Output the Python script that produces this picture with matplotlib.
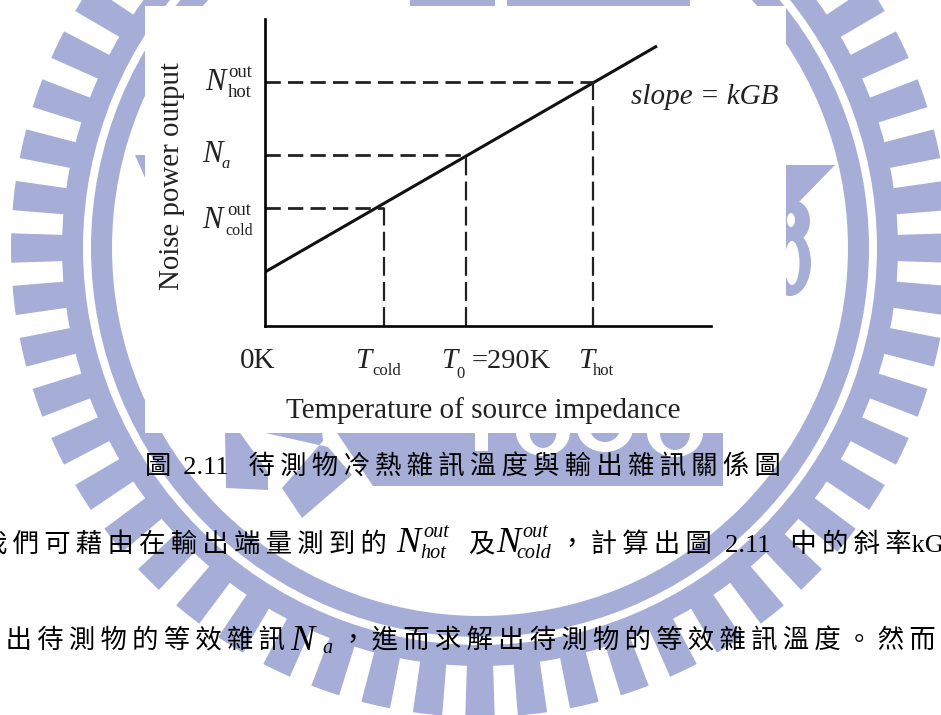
import numpy as np
import matplotlib
matplotlib.use('Agg')
import matplotlib.pyplot as plt
from matplotlib.patches import Wedge, Polygon, Ellipse, Rectangle

plt.rcParams['font.family'] = ['Liberation Serif', 'Noto Sans CJK TC', 'DejaVu Sans']

# chart values
t_marks = [119, 201, 328]        # T_cold, T_0, T_hot
n_marks = [118, 171, 244]        # N_cold, N_a, N_hot
line_x = [0, 392]
line_y = [54, 280]

WM = '#a6aed8'
DARK = '#222222'


def spaced(s):
    # the scanned text has wide letter spacing
    return '\u2009'.join(s)


def draw_watermark(ax):
    cx, cy = 480, 248
    ax.add_patch(Wedge((cx, cy), 389, 0, 360, width=21, color=WM, lw=0))
    ax.add_patch(Wedge((cx, cy), 418, 0, 360, width=21, color=WM, lw=0))
    step = 360 / 56
    for i in range(56):
        a = i * step
        ax.add_patch(Wedge((cx, cy), 469, a - 1.8, a + 1.8, width=53, color=WM, lw=0))

    # inner parts of the logo, mostly hidden behind the white picture box
    ax.add_patch(Rectangle((410, 0), 85, 8, color=WM, lw=0))
    ax.add_patch(Rectangle((507, 0), 183, 8, color=WM, lw=0))
    ax.add_patch(Polygon([(135, 155), (146, 155), (146, 180)], color=WM, lw=0))
    ax.add_patch(Polygon([(784, 165), (835, 165), (798, 203), (784, 215)], color=WM, lw=0))
    ax.add_patch(Ellipse((795, 221), 30, 40, color=WM, lw=0))
    ax.add_patch(Ellipse((791, 220), 8, 14, color='white', lw=0))
    ax.add_patch(Ellipse((790, 263), 42, 66, color=WM, lw=0))
    ax.add_patch(Ellipse((792, 263), 15, 44, color='white', lw=0))

    ax.add_patch(Polygon([(225, 430), (238, 430), (268, 472), (268, 490), (226, 488)], color=WM, lw=0))
    ax.add_patch(Polygon([(252, 430), (322, 430), (323, 441), (282, 488), (302, 518),
                          (352, 475), (328, 447)], color=WM, lw=0))
    ax.add_patch(Polygon([(335, 430), (723, 430), (723, 486), (373, 486)], color=WM, lw=0))
    # 1896 in white on the logo
    ax.add_patch(Rectangle((475, 430), 13, 21, color='white', lw=0))
    for x, y, w, h, hw, hh in [(543, 432, 54, 48, 27, 32), (605, 428, 56, 48, 30, 28),
                               (675, 433, 56, 48, 30, 34)]:
        ax.add_patch(Ellipse((x, y), w, h, color='white', lw=0))
        ax.add_patch(Ellipse((x, y), hw, hh, color=WM, lw=0))


def sym(x, y, base, size, color=DARK):
    bg.text(x, y, base, fontsize=size, style='italic', va='baseline', color=color, zorder=5)


def small(x, y, s, size, italic=False, color=DARK):
    bg.text(x, y, s, fontsize=size, style='italic' if italic else 'normal',
            va='baseline', color=color, zorder=5)


fig = plt.figure(figsize=(9.41, 7.15), dpi=100)
bg = fig.add_axes([0, 0, 1, 1])
bg.set_xlim(0, 941)
bg.set_ylim(715, 0)
bg.axis('off')

draw_watermark(bg)
bg.add_patch(Rectangle((145, 6), 641, 427, color='white', lw=0, zorder=3))

# the plot inside the white box
ax = fig.add_axes([265 / 941, (715 - 326) / 715, 446 / 941, 307 / 715], zorder=2)
ax.patch.set_visible(False)
ax.set_xlim(0, 446)
ax.set_ylim(0, 307)
ax.set_xticks([])
ax.set_yticks([])
ax.spines['top'].set_visible(False)
ax.spines['right'].set_visible(False)
ax.spines['left'].set_linewidth(1.9)
ax.spines['bottom'].set_linewidth(1.9)
ax.plot(line_x, line_y, color='#111111', lw=2.2, solid_capstyle='butt')
for t, n in zip(t_marks, n_marks):
    ax.plot([0, t], [n, n], color=DARK, lw=2.0, dashes=(5.5, 2.6))
    ax.plot([t, t], [0, n], color=DARK, lw=1.6, dashes=(8.5, 2.8))

# chart text
bg.text(172, 176, 'Noise power output', fontsize=20.8, rotation=90, ha='center', va='center', color=DARK, zorder=5)

sym(205, 90, 'N', 22)
small(228, 77, 'out', 13.5)
small(228, 97, 'hot', 13.5)
sym(202, 162, 'N', 22)
small(222, 168, 'a', 12, italic=True)
sym(202, 228, 'N', 22)
small(227, 215, 'out', 13.5)
small(225, 235, 'cold', 11.5)

sym(631, 104, 'slope = kGB', 21)

small(240, 368, '0K', 21)
sym(355, 368, 'T', 21)
small(372, 375, 'cold', 12)
sym(441, 368, 'T', 21)
small(456, 378, '0', 12)
small(472, 368, '=290K', 20.5)
sym(578, 368, 'T', 21)
small(593, 375, 'hot', 12)

bg.text(483.5, 418, 'Temperature of source impedance', fontsize=21, ha='center', va='baseline', color=DARK, zorder=5)

# caption and the two lines of body text
body = dict(color='black', fontsize=19, va='baseline', zorder=5)
bg.text(145, 475, spaced('圖') + ' \u20092.11   ' + spaced('待測物冷熱雜訊溫度與輸出雜訊關係圖'), **body)

bg.text(-18.7, 552, spaced('我們可藉由在輸出端量測到的'), **body)
sym(396, 552, 'N', 26, color='black')
small(423, 537, 'out', 14.5, italic=True, color='black')
small(420, 558, 'hot', 14.5, italic=True, color='black')
bg.text(468, 552, '及', **body)
sym(496, 552, 'N', 26, color='black')
small(522, 537, 'out', 14.5, italic=True, color='black')
small(516, 558, 'cold', 14.5, italic=True, color='black')
bg.text(559, 552, spaced('，計算出圖') + '  2.11   ' + spaced('中的斜率') + 'kGB', **body)

bg.text(-26, 648, spaced('算出待測物的等效雜訊'), **body)
sym(290, 650, 'N', 26, color='black')
small(322, 653, 'a', 14.5, italic=True, color='black')
bg.text(340, 648, spaced('，進而求解出待測物的等效雜訊溫度。然而'), **body)

fig.savefig('out.png', dpi=100)
